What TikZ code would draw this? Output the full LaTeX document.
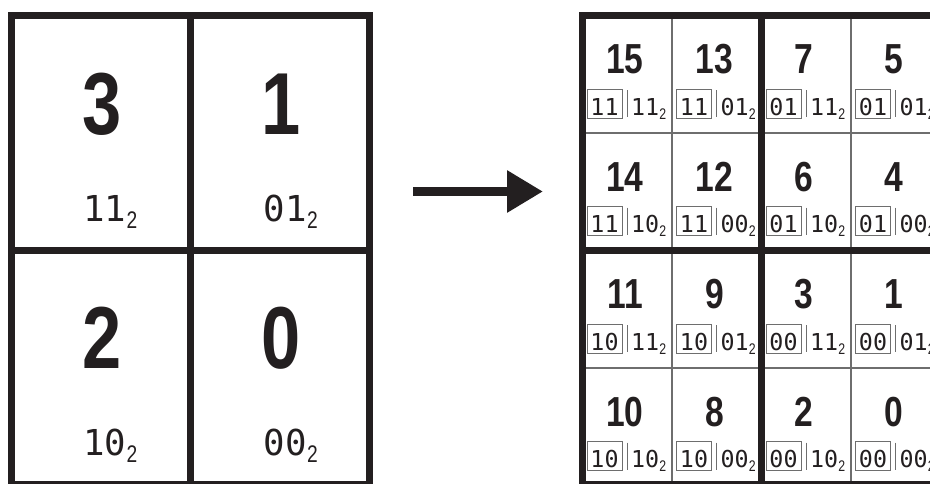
\documentclass[tikz,border=0pt]{standalone}
\usepackage{fontspec}
\usetikzlibrary{arrows.meta}
\newfontfamily\bigfont[FakeStretch=0.8]{Liberation Sans}
\newfontfamily\mfont{DejaVu Sans Mono}
\newfontfamily\sfont[FakeStretch=0.8]{Liberation Sans}
\definecolor{ink}{RGB}{35,31,32}
\definecolor{thin}{RGB}{110,110,110}
\newcommand\bigL[1]{{\fontsize{88}{88}\selectfont\bigfont\bfseries #1}}
\newcommand\bigS[1]{{\fontsize{42}{42}\selectfont\bigfont\bfseries #1}}
\newcommand\labL[1]{{\fontsize{35.7}{36}\selectfont\mfont #1}\kern0.5pt\raisebox{-7pt}{\fontsize{24}{24}\selectfont\sfont 2}}
\newcommand\labS[1]{{\fontsize{23.3}{24}\selectfont\mfont #1}\raisebox{-4pt}{\fontsize{15.4}{16}\selectfont\sfont 2}}
\newcommand\boxS[1]{{\fontsize{23.3}{24}\selectfont\mfont #1}}
\begin{document}
\begin{tikzpicture}[x=1pt,y=-1pt,
  thickl/.style={draw=ink,line width=7pt,line join=miter},
  thinl/.style={draw=thin,line width=1.1pt},
  barl/.style={draw=thin,line width=1pt},
  boxl/.style={draw=thin,line width=0.9pt,inner sep=0pt,minimum width=35pt,text height=26pt,text depth=3pt,text=ink},
  num/.style={anchor=base,inner sep=0pt,text=ink},
  lab/.style={anchor=base west,inner sep=0pt,text=ink}]
\useasboundingbox (0,0) rectangle (930,483);
\clip (0,0) rectangle (930,483);
\fill[white] (0,0) rectangle (930,483);

% ---------- left grid ----------
\draw[thickl] (11.5,15.5) rectangle (369.5,484.5);
\draw[thickl] (190.5,15.5) -- (190.5,484.5);
\draw[thickl] (11.5,250) -- (369.5,250);

\node[num] (L3) at (102,134) {\bigL{3}};
\node[num] (L1) at (281,134) {\bigL{1}};
\node[num] (L2) at (102,368) {\bigL{2}};
\node[num] (L0) at (281,368) {\bigL{0}};

\node[lab] (l3) at (83,221) {\labL{11}};
\node[lab] (l1) at (263.5,221) {\labL{01}};
\node[lab] (l2) at (83,455) {\labL{10}};
\node[lab] (l0) at (263.5,455) {\labL{00}};

% ---------- arrow ----------
\coordinate (as) at (413,191.5);
\coordinate (ae) at (543,191.5);
\draw[ink,line width=9pt,-{Triangle[length=36pt,width=40pt]}] (as) -- (ae);

% ---------- right grid ----------
\draw[thinl] (672,15.5) -- (672,484.5);
\draw[thinl] (851,15.5) -- (851,484.5);
\draw[thinl] (582.5,133) -- (945,133);
\draw[thinl] (582.5,368) -- (945,368);

\foreach \r/\c/\n/\a/\b in {0/0/15/11/11, 0/1/13/11/01, 0/2/7/01/11, 0/3/5/01/01,
  1/0/14/11/10, 1/1/12/11/00, 1/2/6/01/10, 1/3/4/01/00,
  2/0/11/10/11, 2/1/9/10/01, 2/2/3/00/11, 2/3/1/00/01,
  3/0/10/10/10, 3/1/8/10/00, 3/2/2/00/10, 3/3/0/00/00} {
  \pgfmathsetmacro\xx{582.5+89.5*\c}
  \pgfmathsetmacro\yy{15.5+117.5*\r}
  \node[num] (n\r\c) at (\xx+42.5,\yy+58) {\bigS{\n}};
  \node[boxl,anchor=base] (b\r\c) at (\xx+22,\yy+99.5) {\boxS{\a}};
  \draw[barl] (\xx+44.5,\yy+74.5) -- (\xx+44.5,\yy+101.5);
  \node[lab] (r\r\c) at (\xx+48.5,\yy+99.5) {\labS{\b}};
}

\draw[thickl] (582.5,15.5) rectangle (940.5,484.5);
\draw[thickl] (761.5,15.5) -- (761.5,484.5);
\draw[thickl] (582.5,250) -- (940.5,250);
\end{tikzpicture}
\end{document}
